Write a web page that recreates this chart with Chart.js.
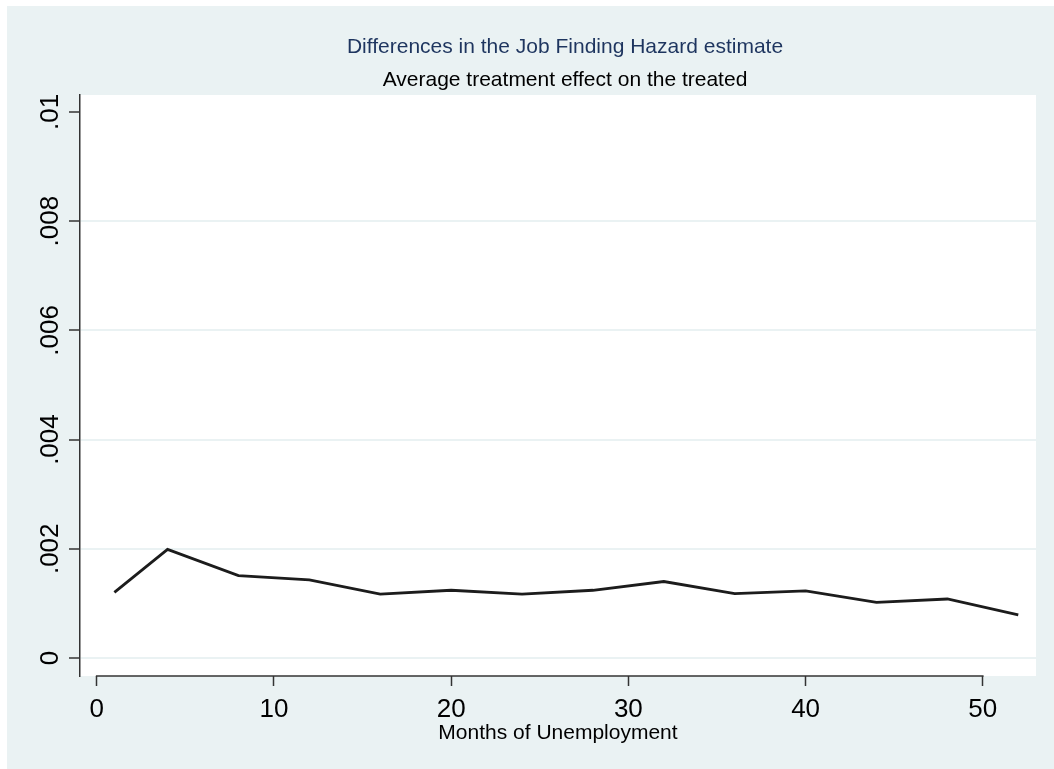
<!DOCTYPE html>
<html>
<head>
<meta charset="utf-8">
<title>Differences in the Job Finding Hazard estimate</title>
<script src="https://cdn.jsdelivr.net/npm/chart.js@4.4.1/dist/chart.umd.min.js"></script>
<style>
  html, body { margin: 0; padding: 0; background: #ffffff; }
  #wrap { width: 1054px; height: 769px; }
</style>
</head>
<body>
<div id="wrap"><canvas id="chart" width="1054" height="769"></canvas></div>
<script>
// Months since entering unemployment
const months = [1, 4, 8, 12, 16, 20, 24, 28, 32, 36, 40, 44, 48, 52];
// Average treatment effect on the treated (difference in job finding hazard)
const ate = [0.00120, 0.00199, 0.00151, 0.00143, 0.00117, 0.00124, 0.00117,
             0.00124, 0.00140, 0.00118, 0.00123, 0.00102, 0.00108, 0.00079];

const xTicks = [0, 10, 20, 30, 40, 50];
const xTickLabels = ['0', '10', '20', '30', '40', '50'];
const yTicks = [0, 0.002, 0.004, 0.006, 0.008, 0.01];
const yTickLabels = ['0', '.002', '.004', '.006', '.008', '.01'];

const titleText = 'Differences in the Job Finding Hazard estimate';
const subtitleText = 'Average treatment effect on the treated';
const xTitleText = 'Months of Unemployment';

const FONT = '"Liberation Sans", Arial, Helvetica, sans-serif';
const PANEL = '#eaf2f3';

// Graph region background, white plot region, titles and the x axis line
const stataFrame = {
  id: 'stataFrame',
  beforeDraw(chart) {
    const { ctx, chartArea: a } = chart;
    ctx.save();
    ctx.fillStyle = '#ffffff';
    ctx.fillRect(0, 0, chart.width, chart.height);
    ctx.fillStyle = PANEL;
    ctx.fillRect(7, 6, chart.width - 7, chart.height - 6);
    ctx.fillStyle = '#ffffff';
    ctx.fillRect(a.left, a.top, a.right - a.left, a.bottom - a.top);
    ctx.restore();
  },
  afterDraw(chart) {
    const { ctx, chartArea: a } = chart;
    const xs = chart.scales.x;
    ctx.save();
    // x axis line spans the labelled range only
    ctx.strokeStyle = '#333333';
    ctx.lineWidth = 1.5;
    ctx.beginPath();
    ctx.moveTo(xs.getPixelForValue(xTicks[0]) - 0.75, a.bottom);
    ctx.lineTo(xs.getPixelForValue(xTicks[xTicks.length - 1]) + 0.75, a.bottom);
    ctx.stroke();
    // titles
    ctx.textAlign = 'center';
    ctx.textBaseline = 'middle';
    ctx.font = '21px ' + FONT;
    ctx.fillStyle = '#1e355f';
    ctx.fillText(titleText, 565, 47);
    ctx.fillStyle = '#000000';
    ctx.fillText(subtitleText, 565, 80);
    ctx.restore();
  }
};

new Chart(document.getElementById('chart'), {
  type: 'line',
  data: {
    datasets: [{
      data: months.map((m, i) => ({ x: m, y: ate[i] })),
      borderColor: '#1c1c1c',
      borderWidth: 2.8,
      pointRadius: 0,
      tension: 0,
      fill: false
    }]
  },
  options: {
    responsive: false,
    animation: false,
    devicePixelRatio: 1,
    layout: { padding: { left: 0, right: 18, top: 95, bottom: 0 } },
    plugins: {
      legend: { display: false },
      tooltip: { enabled: false },
      title: { display: false }
    },
    scales: {
      x: {
        type: 'linear',
        min: -0.94,
        max: 53.0,
        afterBuildTicks(scale) { scale.ticks = xTicks.map(v => ({ value: v })); },
        afterFit(scale) { scale.height = 93; },
        border: { display: false },
        grid: {
          display: true,
          drawOnChartArea: false,
          drawTicks: true,
          tickLength: 10,
          tickColor: '#333333',
          tickWidth: 1.5
        },
        ticks: {
          autoSkip: false,
          maxRotation: 0,
          minRotation: 0,
          padding: 8,
          color: '#000000',
          font: { family: FONT, size: 26 },
          callback: (v, i) => xTickLabels[i]
        },
        title: {
          display: true,
          text: xTitleText,
          color: '#000000',
          font: { family: FONT, size: 21 },
          padding: { top: 0, bottom: 23 }
        }
      },
      y: {
        type: 'linear',
        min: -0.00033,
        max: 0.01031,
        afterBuildTicks(scale) { scale.ticks = yTicks.map(v => ({ value: v })); },
        afterFit(scale) { scale.width = 80; },
        border: { display: true, color: '#333333', width: 1.5 },
        grid: {
          color: ctx => (ctx.tick && ctx.tick.value >= 0.0099) ? 'rgba(0,0,0,0)' : PANEL,
          lineWidth: 2,
          drawTicks: true,
          tickLength: 11,
          tickColor: '#333333',
          tickWidth: 1.5
        },
        ticks: {
          autoSkip: false,
          minRotation: 90,
          maxRotation: 90,
          crossAlign: 'center',
          padding: -7,
          color: '#000000',
          font: { family: FONT, size: 26 },
          callback: (v, i) => yTickLabels[i]
        }
      }
    }
  },
  plugins: [stataFrame]
});
</script>
</body>
</html>
